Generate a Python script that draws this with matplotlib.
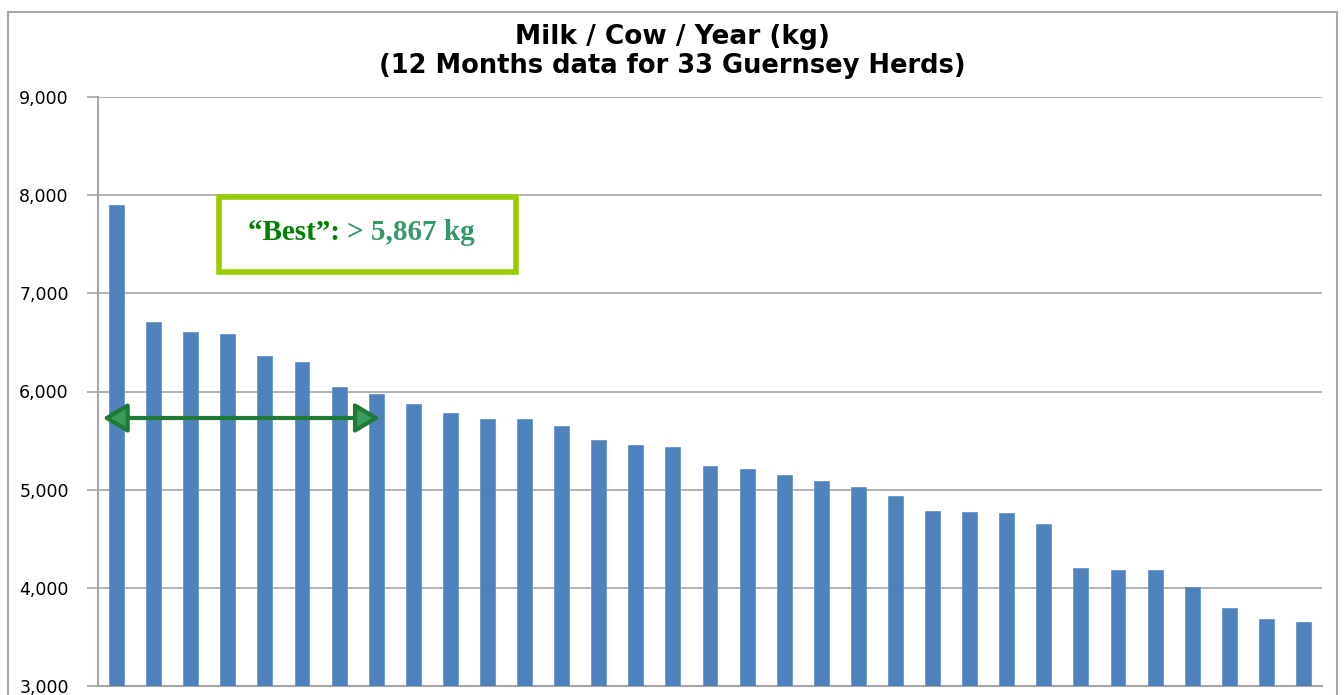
import matplotlib
matplotlib.use("Agg")
import matplotlib.pyplot as plt
from matplotlib.patches import Rectangle
import numpy as np

herds = [f"H{i}" for i in range(1, 34)]
milk = [7900, 6708, 6606, 6586, 6362, 6300, 6046, 5975, 5870, 5781, 5720,
        5720, 5649, 5506, 5455, 5435, 5241, 5211, 5150, 5089, 5027, 4936,
        4783, 4773, 4762, 4650, 4202, 4182, 4182, 4009, 3795, 3683, 3650]
yticks = [3000, 4000, 5000, 6000, 7000, 8000, 9000]
ytick_labels = ["3,000", "4,000", "5,000", "6,000", "7,000", "8,000", "9,000"]
title1 = "Milk / Cow / Year (kg)"
title2 = "(12 Months data for 33 Guernsey Herds)"
best_label_a = "\u201cBest\u201d: "
best_label_b = "> 5,867 kg"
arrow_level = 5730

fig = plt.figure(figsize=(13.44, 6.95), dpi=100)
# outer chart frame
fig.patches.append(Rectangle((8/1344, -0.01), (1337-8)/1344, 1 - 12/695 + 0.01,
                             transform=fig.transFigure, fill=False,
                             edgecolor="#a6a6a6", linewidth=1.5))

ax = fig.add_axes([98/1344, 1-686/695, (1322-98)/1344, (686-97)/695])
x = np.arange(len(milk))
ax.bar(x, milk, width=0.4, color="#4f81bd", edgecolor="#6a96c8", linewidth=0.6, zorder=3)
ax.set_xlim(-0.5, len(milk) - 0.5)
ax.set_ylim(3000, 9000)
ax.set_yticks(yticks)
ax.set_yticklabels(ytick_labels, fontsize=12.5, family="DejaVu Sans")
ax.set_xticks([])
ax.yaxis.grid(True, color="#a6a6a6", linewidth=1.2, zorder=0)
for s in ["top", "right"]:
    ax.spines[s].set_visible(False)
for s in ["left", "bottom"]:
    ax.spines[s].set_color("#a6a6a6")
    ax.spines[s].set_linewidth(1.5)
ax.tick_params(axis="y", length=8, color="#a6a6a6", width=1.2, pad=13)

# double headed arrow over the top quartile
x0, x1 = -0.37, 7.1
ax.annotate("", xy=(x0, arrow_level), xytext=(x1, arrow_level),
            arrowprops=dict(arrowstyle="<|-|>,head_length=1.0,head_width=0.6",
                            facecolor="#3a9b5c", edgecolor="#1f7a35", lw=3,
                            shrinkA=0, shrinkB=0, mutation_scale=15),
            zorder=5)

# annotation box
fig.patches.append(Rectangle((219/1344, 1-272/695), (516-219)/1344, (272-197)/695,
                             transform=fig.transFigure, fill=True, facecolor="white",
                             edgecolor="#99cc00", linewidth=4, zorder=6))
t1 = fig.text(248/1344, 1-232/695, best_label_a, fontsize=21, fontweight="bold",
              family="Liberation Serif", color="#008000", va="center", ha="left", zorder=7)
fig.canvas.draw()
bb = t1.get_window_extent()
fig.text(bb.x1/1344, 1-232/695, best_label_b, fontsize=21, fontweight="bold",
         family="Liberation Serif", color="#339966", va="center", ha="left", zorder=7)

fig.text(0.5, 1-37/695, title1, fontsize=19, fontweight="bold", family="DejaVu Sans",
         ha="center", va="center")
fig.text(0.5, 1-66/695, title2, fontsize=18.5, fontweight="bold", family="DejaVu Sans",
         ha="center", va="center")

fig.savefig("out.png", dpi=100)
